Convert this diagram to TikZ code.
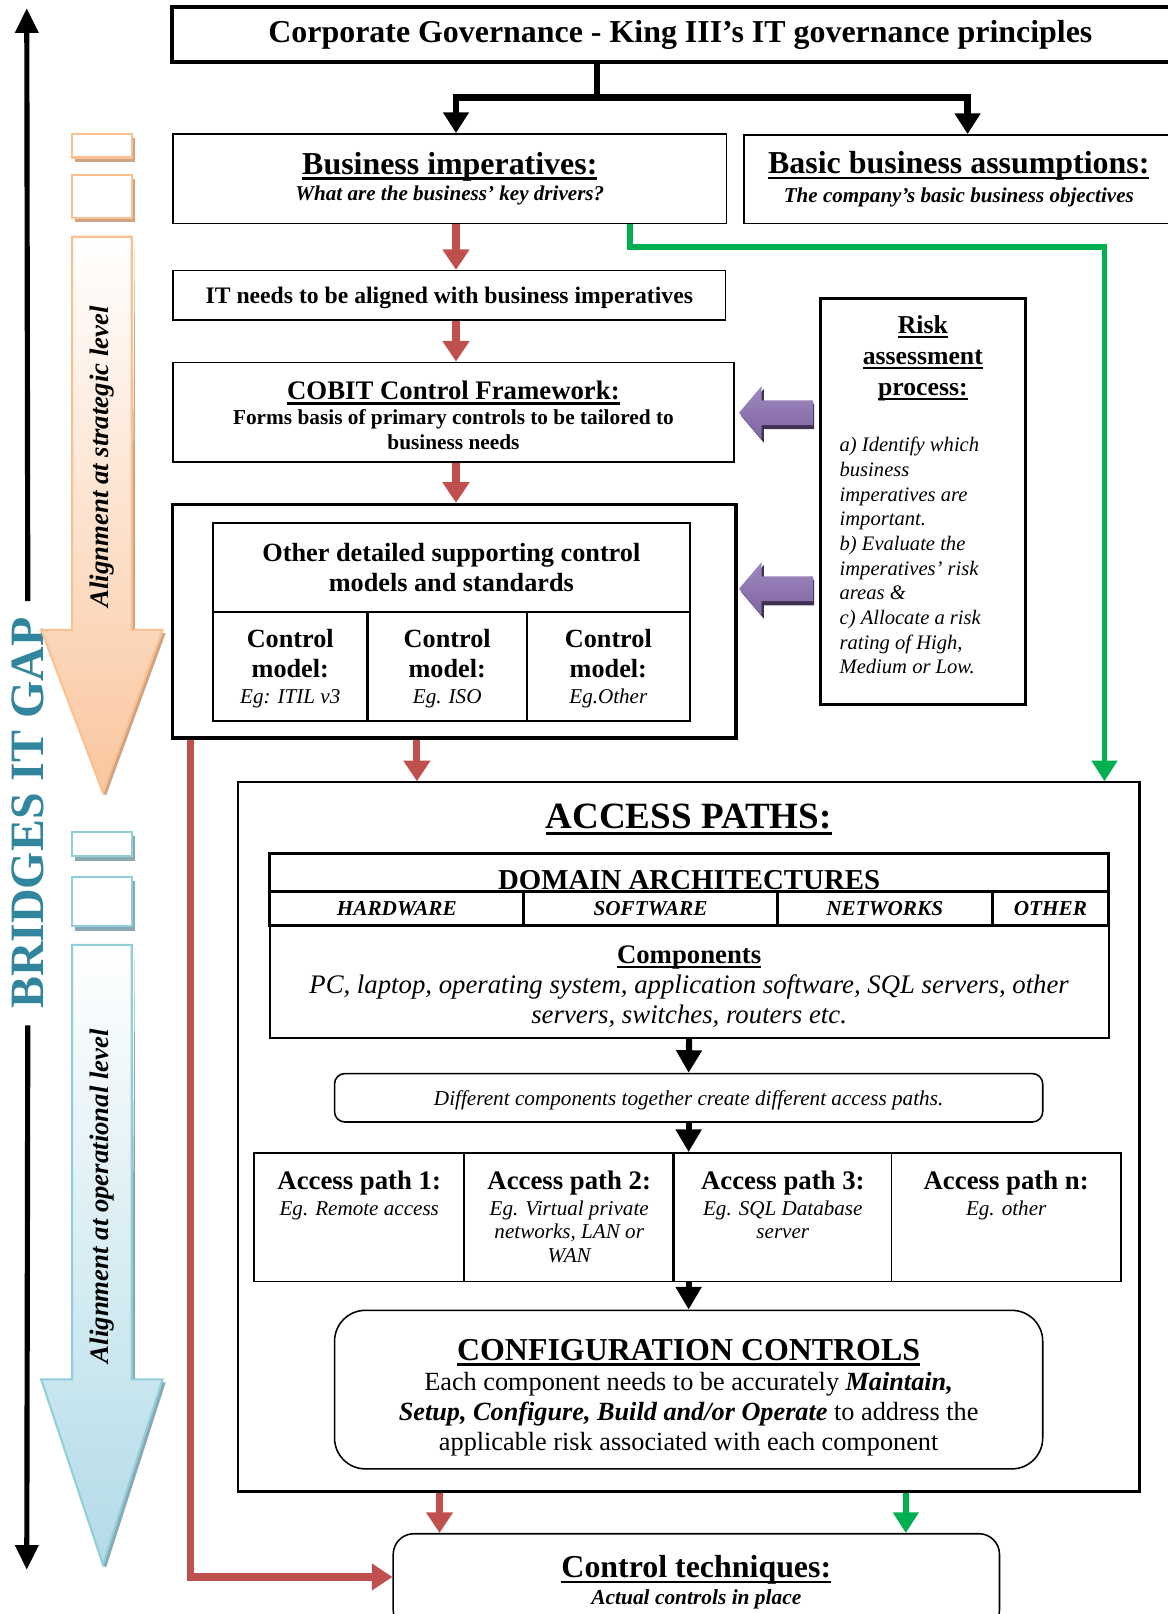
\documentclass[tikz,border=0pt]{standalone}
\usepackage{fontspec}
\setmainfont{Liberation Serif}
\usetikzlibrary{arrows.meta,positioning}

\definecolor{riskred}{RGB}{192,80,77}
\definecolor{pathgreen}{RGB}{0,176,80}
\definecolor{gapteal}{RGB}{49,133,156}
\definecolor{riskpurple}{RGB}{128,100,162}
\definecolor{riskpurplelt}{RGB}{158,136,190}
\definecolor{riskpurpledk}{RGB}{64,49,82}
\definecolor{stratline}{RGB}{250,192,144}
\definecolor{stratfill}{RGB}{250,198,158}
\definecolor{stratshadow}{RGB}{205,165,132}
\definecolor{operline}{RGB}{146,205,220}
\definecolor{operfill}{RGB}{178,219,231}
\definecolor{opershadow}{RGB}{138,168,178}

\newcommand{\fsz}[2]{\fontsize{#1}{#2}\selectfont}
\newcommand{\uln}[1]{\leavevmode\setbox0\hbox{#1}\rlap{\vrule height -.1em depth .185em width \wd0}\box0}

\begin{document}
\begin{tikzpicture}[
  x=1pt, y=-1pt,
  box/.style={draw, line width=1.5pt, inner sep=0pt, align=center},
  thickbox/.style={box, line width=3pt},
  cell/.style={box, line width=2pt},
  roundbox/.style={box, rounded corners=#1},
  txt/.style={inner sep=0pt, align=center},
  blkarr/.style={line width=6.5pt, -{Triangle[length=20pt,width=24pt]}},
  smallarr/.style={line width=6pt, -{Triangle[length=22pt,width=24pt]}},
  redarr/.style={draw=riskred, line width=7pt, -{Triangle[length=20pt,width=25pt]}},
  grnarr/.style={draw=pathgreen, line width=5.5pt, -{Triangle[length=20pt,width=24pt]}},
  gaparr/.style={line width=5pt, -{Triangle[length=24pt,width=22pt]}},
]
\useasboundingbox (0,0) rectangle (1134,1568);

% left side: gap arrow and the two alignment arrows
\node[rotate=90, text=gapteal, font=\fsz{46.5}{50}\bfseries, inner xsep=16pt, inner ysep=0pt] (gap) at (27,790) {BRIDGES IT GAP};
\coordinate (gaptop) at (26,8);
\coordinate (gapbot) at (26,1525);
\draw[gaparr] (gap.east) -- (gaptop);
\draw[gaparr] (gap.west) -- (gapbot);

\fill[stratshadow] (73,134) rectangle (131,157);
\fill[stratshadow] (73,174) rectangle (131,216);
\draw[stratline, line width=2pt, fill=white] (70,130) rectangle (128,153);
\draw[stratline, line width=2pt, fill=white] (70,170) rectangle (128,212);
\fill[stratshadow] (131,233) -- (131,615) -- (161,615) -- (103,773) -- (100,770) -- (158,612) -- (128,612) -- cycle;
\shade[top color=white, bottom color=stratfill, draw=stratline, line width=2pt]
  (70,230) -- (128,230) -- (128,612) -- (158,612) -- (100,770) -- (40,612) -- (70,612) -- cycle;
\node[rotate=90, font=\fsz{26}{30}\bfseries\itshape] (strat) at (99,444) {Alignment at strategic level};

\fill[opershadow] (73,812) rectangle (131,836);
\fill[opershadow] (73,856) rectangle (131,904);
\draw[operline, line width=2pt, fill=white] (70,808) rectangle (128,832);
\draw[operline, line width=2pt, fill=white] (70,852) rectangle (128,900);
\fill[opershadow] (131,921) -- (131,1343) -- (161,1343) -- (103,1523) -- (100,1520) -- (158,1340) -- (128,1340) -- cycle;
\shade[top color=white, bottom color=operfill, draw=operline, line width=2pt]
  (70,918) -- (128,918) -- (128,1340) -- (158,1340) -- (100,1520) -- (40,1340) -- (70,1340) -- cycle;
\node[rotate=90, font=\fsz{26}{30}\bfseries\itshape] (oper) at (99,1162) {Alignment at operational level};

% governance column
\node[box, line width=4pt, minimum width=988, minimum height=53, font=\fsz{31}{36}\bfseries] (title) at (661,33.5)
  {Corporate Governance - King III's IT governance principles};
\node[box, minimum width=538, minimum height=87, font=\fsz{31}{26}\bfseries] (bi) at (437,173.5)
  {\uln{Business imperatives:}\\{\fsz{20.5}{26}\itshape What are the business' key drivers?}};
\node[box, minimum width=417, minimum height=86, font=\fsz{31}{28}\bfseries] (bba) at (931.5,174)
  {\uln{Basic business assumptions:}\\{\fsz{20.5}{28}\itshape The company's basic business objectives}};
\node[box, minimum width=537, minimum height=48, text depth=0pt, font=\fsz{23}{26}\bfseries] (itn) at (436.5,287)
  {IT needs to be aligned with business imperatives};
\node[box, minimum width=545, minimum height=97, font=\fsz{20.7}{24}\bfseries] (cobit) at (440.5,400.5)
  {\rule{0pt}{24pt}{\fsz{26}{24}\uln{COBIT Control Framework:}}\\Forms basis of primary controls to be tailored to\\business needs};

\node[thickbox, minimum width=547, minimum height=227] (frame) at (441.5,603.5) {};
\node[cell, minimum width=463, minimum height=87, font=\fsz{25.5}{29}\bfseries] (others) at (438.5,551.5)
  {Other detailed supporting control\\models and standards};
\foreach \n/\cx/\w/\eg in {cm1/282/150/{Eg: ITIL v3}, cm2/434.5/155/{Eg. ISO}, cm3/591/158/{Eg.Other}} {
  \node[cell, minimum width=\w, minimum height=105, font=\fsz{25.5}{29}\bfseries] (\n) at (\cx,647.5)
    {\rule{0pt}{22pt}Control\\model:\\[-4pt]{\fsz{20.5}{25}\mdseries\itshape \eg}};
}

% risk assessment
\node[thickbox, minimum width=199, minimum height=394] (risk) at (896.5,487) {};
\node[txt, below=18pt of risk.north, font=\fsz{25}{30}\bfseries] (risktitle)
  {\uln{Risk}\\\uln{assessment}\\\uln{process:}};
\node[txt, align=left, below right=136pt and 20pt of risk.north west, font=\fsz{20}{24}\itshape] (riskbody)
  {a) Identify which\\business\\imperatives are\\important.\\b) Evaluate the\\imperatives' risk\\areas \&\\c) Allocate a risk\\rating of High,\\Medium or Low.};
\foreach \ay in {401,572} {
  \fill[riskpurpledk] (720,\ay+3) -- (742,\ay-23) -- (742,\ay-9) -- (791,\ay-9) -- (791,\ay+16) -- (742,\ay+16) -- (742,\ay+29) -- cycle;
  \shade[top color=riskpurplelt, bottom color=riskpurple] (718,\ay) -- (740,\ay-26) -- (740,\ay-12) -- (790,\ay-12) -- (790,\ay+12) -- (740,\ay+12) -- (740,\ay+26) -- cycle;
}

% access paths
\node[box, line width=2pt, minimum width=876, minimum height=689] (access) at (669,1104.5) {};
\node[txt, anchor=base, font=\fsz{36}{40}\bfseries] (aptitle) at (669,805) {\uln{ACCESS PATHS:}};
\node[cell, line width=3pt, minimum width=815, minimum height=37, text height=33pt, text depth=0pt, font=\fsz{28}{30}\bfseries] (domhead) at (669.5,847.5)
  {DOMAIN ARCHITECTURES};
\foreach \n/\cx/\w/\lab in {hw/385.5/247/HARDWARE, sw/632/246/SOFTWARE, nw/859.5/209/NETWORKS, ot/1020.5/113/OTHER} {
  \node[cell, line width=3pt, minimum width=\w, minimum height=33, font=\fsz{20.6}{24}\bfseries\itshape] (\n) at (\cx,882.5) {\lab};
}
\node[cell, minimum width=815, minimum height=109, font=\fsz{26}{29}\itshape] (comp) at (669.5,953.5)
  {\rule{0pt}{27pt}{\bfseries\upshape\uln{Components}}\\PC, laptop, operating system, application software, SQL servers, other\\servers, switches, routers etc.};
\node[roundbox=10pt, minimum width=688, minimum height=47, text depth=0pt, font=\fsz{20.6}{24}\itshape] (diff) at (669,1066.5)
  {Different components together create different access paths.};
\foreach \n/\cx/\w in {ap1/349/204, ap2/553/204, ap3/760.5/211, ap4/977.5/223} {
  \node[box, minimum width=\w, minimum height=125] (\n) at (\cx,1182.5) {};
}
\draw[line width=3pt] (ap3.north west) -- (ap3.south west);
\node[txt, below=18pt of ap1.north, font=\fsz{20.5}{23}\itshape] (ap1t) {{\fsz{26}{23}\bfseries\upshape Access path 1:}\\[2pt]Eg. Remote access};
\node[txt, below=18pt of ap2.north, font=\fsz{20.5}{23}\itshape] (ap2t) {{\fsz{26}{23}\bfseries\upshape Access path 2:}\\[2pt]Eg. Virtual private\\networks, LAN or\\WAN};
\node[txt, below=18pt of ap3.north, font=\fsz{20.5}{23}\itshape] (ap3t) {{\fsz{26}{23}\bfseries\upshape Access path 3:}\\[2pt]Eg. SQL Database\\server};
\node[txt, below=18pt of ap4.north, font=\fsz{20.5}{23}\itshape] (ap4t) {{\fsz{26}{23}\bfseries\upshape Access path n:}\\[2pt]Eg. other};
\node[roundbox=30pt, minimum width=688, minimum height=154, font=\fsz{25.5}{29}] (cfg) at (669,1350)
  {\rule{0pt}{36pt}{\fsz{31}{29}\bfseries\uln{CONFIGURATION CONTROLS}}\\[1pt]Each component needs to be accurately \textbf{\textit{Maintain,}}\\\textbf{\textit{Setup, Configure, Build and/or Operate}} to address the\\applicable risk associated with each component};

\node[roundbox=20pt, minimum width=589, minimum height=94, font=\fsz{20.8}{26}\bfseries\itshape] (ct) at (676.5,1537)
  {{\fsz{31}{26}\upshape\uln{Control techniques:}}\\Actual controls in place};

% connectors
\coordinate (split) at (580,95);
\coordinate (spine) at (443,0);
\coordinate (bbx) at (940,0);
\draw[blkarr] (title.south -| split) -- (split) -| (spine |- bi.north);
\draw[blkarr] (split) -| (bbx |- bba.north);

\draw[redarr] (spine |- bi.south) -- (spine |- itn.north);
\draw[redarr] (spine |- itn.south) -- (spine |- cobit.north);
\draw[redarr] (spine |- cobit.south) -- (spine |- frame.north);
\coordinate (redin) at (405,0);
\draw[redarr] (redin |- frame.south) -- (redin |- access.north);
\coordinate (redx) at (185,1532);
\draw[redarr] (frame.south -| redx) -- (redx) -- (redx -| ct.west);
\coordinate (redout) at (427,0);
\draw[redarr] (redout |- access.south) -- (redout |- ct.north);

\coordinate (greenx) at (612,240);
\coordinate (greenr) at (1073,240);
\draw[grnarr] (bi.south -| greenx) -- (greenx) -- (greenr) -- (greenr |- access.north);
\coordinate (greenout) at (880,0);
\draw[grnarr] (greenout |- access.south) -- (greenout |- ct.north);

\draw[smallarr] (comp.south) -- (diff.north);
\draw[smallarr] (diff.south) -- (diff.south |- ap3.north);
\draw[smallarr] (ap3.south -| diff.south) -- (cfg.north);

\end{tikzpicture}
\end{document}
